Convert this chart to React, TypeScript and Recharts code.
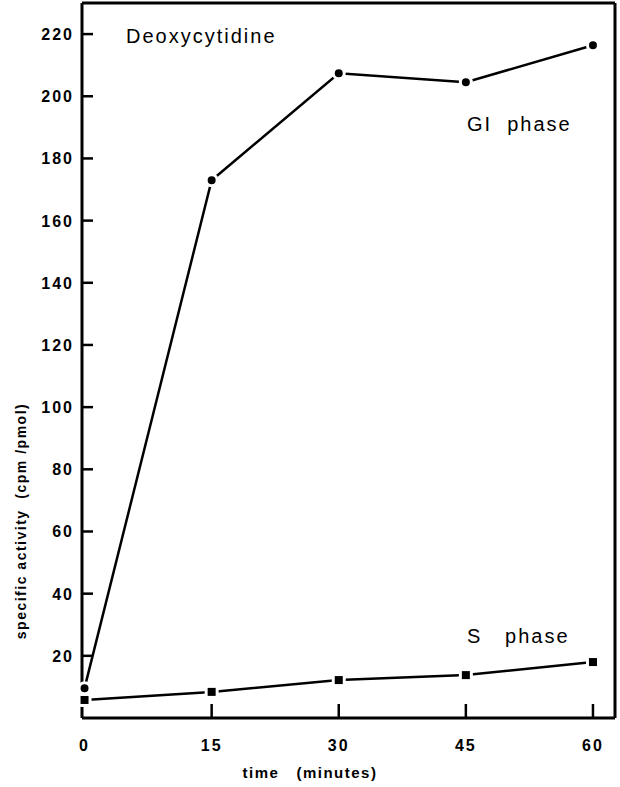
import React from 'react';
import {
  LineChart,
  Line,
  XAxis,
  YAxis,
  ReferenceLine,
} from 'recharts';

const minutes = [0, 15, 30, 45, 60];
const g1Phase = [9.6, 173, 207.4, 204.5, 216.4];
const sPhase = [5.8, 8.4, 12.2, 13.8, 18];
const xTicks = [0, 15, 30, 45, 60];
const yTicks = [20, 40, 60, 80, 100, 120, 140, 160, 180, 200, 220];

const X_MAX = 62.6;
const Y_MAX = 230;

const W = 620;
const H = 787;
const Y_AXIS_W = 82;
const X_AXIS_H = 69;
// axis line positions, so the tick marks can point into the plot
const AXIS_X = Y_AXIS_W;
const AXIS_Y = H - X_AXIS_H;

const data = minutes.map((t, i) => ({ t, g1: g1Phase[i], s: sPhase[i] }));

const font = "'Liberation Sans', Arial, sans-serif";

const YTick = (props: any) => {
  const { y, payload } = props;
  return (
    <g>
      <path d={`M${AXIS_X},${y}h11`} stroke="#000" strokeWidth={2.5} fill="none" />
      <text
        x={AXIS_X - 8}
        y={y}
        dy={6}
        textAnchor="end"
        fontFamily={font}
        fontWeight={700}
        fontSize={16}
        letterSpacing={2}
        fill="#000"
      >
        {payload.value}
      </text>
    </g>
  );
};

const XTick = (props: any) => {
  const { x, payload } = props;
  return (
    <g>
      {payload.value !== 0 && (
        <path d={`M${x},${AXIS_Y}v-14`} stroke="#000" strokeWidth={2.5} fill="none" />
      )}
      <text
        x={x}
        y={AXIS_Y + 33}
        textAnchor="middle"
        fontFamily={font}
        fontWeight={700}
        fontSize={16}
        letterSpacing={2}
        fill="#000"
      >
        {payload.value}
      </text>
    </g>
  );
};

const Dot = (props: any) => {
  const { cx, cy } = props;
  return <circle cx={cx} cy={cy} r={5.5} fill="#000" stroke="#fff" strokeWidth={3} />;
};

const Square = (props: any) => {
  const { cx, cy } = props;
  return (
    <rect x={cx - 5.5} y={cy - 5.5} width={11} height={11} fill="#000" stroke="#fff" strokeWidth={3} />
  );
};

export default function App() {
  return (
    <div style={{ position: 'absolute', left: 0, top: 0, width: W, height: H, background: '#fff' }}>
      <LineChart
        width={W}
        height={H}
        data={data}
        margin={{ top: 3, right: 5, left: 0, bottom: 0 }}
      >
        <XAxis
          dataKey="t"
          type="number"
          domain={[-0.3, X_MAX]}
          ticks={xTicks}
          height={X_AXIS_H}
          tickLine={false}
          axisLine={{ stroke: '#000', strokeWidth: 3 }}
          tick={<XTick />}
        />
        <YAxis
          type="number"
          domain={[0, Y_MAX]}
          ticks={yTicks}
          width={Y_AXIS_W}
          tickLine={false}
          axisLine={{ stroke: '#000', strokeWidth: 3 }}
          tick={<YTick />}
          interval={0}
        />
        <ReferenceLine x={X_MAX} stroke="#000" strokeWidth={3} />
        <ReferenceLine y={Y_MAX} stroke="#000" strokeWidth={3} />
        <Line
          dataKey="g1"
          stroke="#000"
          strokeWidth={2.5}
          dot={<Dot />}
          activeDot={false}
          isAnimationActive={false}
        />
        <Line
          dataKey="s"
          stroke="#000"
          strokeWidth={2.5}
          dot={<Square />}
          activeDot={false}
          isAnimationActive={false}
        />
        <text x={126} y={43} fontFamily={font} fontSize={20} letterSpacing={2} fill="#000">
          Deoxycytidine
        </text>
        <text
          x={467}
          y={131}
          fontFamily={font}
          fontSize={20}
          letterSpacing={2}
          fill="#000"
          style={{ whiteSpace: 'pre' }}
        >
          GI  phase
        </text>
        <text
          x={467}
          y={643}
          fontFamily={font}
          fontSize={20}
          letterSpacing={2}
          fill="#000"
          style={{ whiteSpace: 'pre' }}
        >
          S   phase
        </text>
        <text
          x={22}
          y={521}
          transform="rotate(-90 22 521)"
          textAnchor="middle"
          dominantBaseline="middle"
          fontFamily={font}
          fontWeight={700}
          fontSize={14}
          letterSpacing={1.5}
          fill="#000"
          style={{ whiteSpace: 'pre' }}
        >
          specific activity  (cpm /pmol)
        </text>
        <text
          x={310}
          y={778}
          textAnchor="middle"
          fontFamily={font}
          fontWeight={700}
          fontSize={15}
          letterSpacing={1.5}
          fill="#000"
          style={{ whiteSpace: 'pre' }}
        >
          time   (minutes)
        </text>
      </LineChart>
    </div>
  );
}
